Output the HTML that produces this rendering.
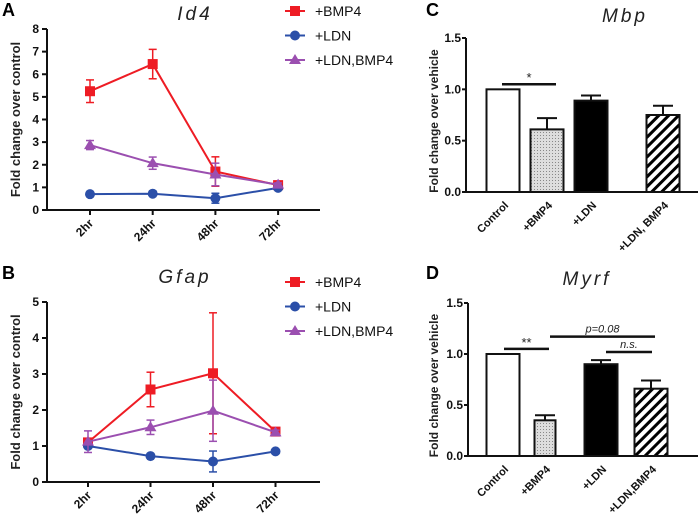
<!DOCTYPE html>
<html><head><meta charset="utf-8"><style>
html,body{margin:0;padding:0;background:#fff;}
svg{display:block;font-family:"Liberation Sans",Arial,sans-serif;}
.tick{font-size:12px;font-weight:bold;fill:#111;}
.ttl{font-size:19px;font-style:italic;letter-spacing:3px;fill:#222;}
.lbl{font-size:13px;font-weight:bold;fill:#222;}
.leg{font-size:14px;fill:#111;}
.pl{font-size:18px;font-weight:bold;fill:#000;}
</style></head><body>
<svg id="fig" width="700" height="520" viewBox="0 0 700 520" xmlns="http://www.w3.org/2000/svg">
<defs>
<pattern id="dots" width="3" height="3" patternUnits="userSpaceOnUse"><rect width="3" height="3" fill="#ddd"/><rect width="1" height="1" fill="#888"/></pattern>
<pattern id="hatch" width="7" height="7" patternUnits="userSpaceOnUse" patternTransform="rotate(45)"><rect width="7" height="7" fill="#fff"/><rect width="3" height="7" fill="#000"/></pattern>
</defs>
</svg>
<script>
// ---- data ----
const timeCats = ["2hr","24hr","48hr","72hr"];
const seriesNames = ["+BMP4","+LDN","+LDN,BMP4"];
const id4Bmp4 = [5.25,6.45,1.7,1.1];
const id4Bmp4Err = [0.5,0.65,0.65,0.08];
const id4Ldn = [0.7,0.72,0.52,0.98];
const id4LdnErr = [0.05,0.05,0.22,0.05];
const id4LdnBmp4 = [2.87,2.07,1.57,1.12];
const id4LdnBmp4Err = [0.2,0.27,0.5,0.08];
const id4Ticks = [0,1,2,3,4,5,6,7,8];
const gfapBmp4 = [1.1,2.57,3.02,1.4];
const gfapBmp4Err = [0.05,0.48,1.68,0.06];
const gfapLdn = [1.0,0.72,0.57,0.85];
const gfapLdnErr = [0.06,0.04,0.29,0.04];
const gfapLdnBmp4 = [1.12,1.52,1.98,1.38];
const gfapLdnBmp4Err = [0.3,0.2,0.85,0.06];
const gfapTicks = [0,1,2,3,4,5];
const mbpCats = ["Control","+BMP4","+LDN","+LDN, BMP4"];
const mbpVals = [1.0,0.61,0.89,0.75];
const mbpErr = [0,0.11,0.05,0.09];
const myrfCats = ["Control","+BMP4","+LDN","+LDN,BMP4"];
const myrfVals = [1.0,0.35,0.9,0.66];
const myrfErr = [0,0.05,0.04,0.08];
const barTicks = [0.0,0.5,1.0,1.5];

const svg = document.getElementById('fig');
const NS = "http://www.w3.org/2000/svg";
function mk(tag, attrs, parent, text){
  const e = document.createElementNS(NS, tag);
  for (const k in attrs) e.setAttribute(k, attrs[k]);
  if (text !== undefined) e.textContent = text;
  (parent||svg).appendChild(e);
  return e;
}
const colors = ["#ee1c24","#2b4fa8","#9b4fb0"];
const markers = ["square","circle","triangle"];
function marker(g, type, x, y, c){
  let m;
  if (type==="square") m = mk('rect',{x:x-5,y:y-5,width:10,height:10,fill:c},g);
  else if (type==="circle") m = mk('circle',{cx:x,cy:y,r:5,fill:c},g);
  else m = mk('polygon',{points:`${x},${y-6} ${x+6},${y+4} ${x-6},${y+4}`,fill:c},g);
  
  
}

function lineChart(opt){
  const g = mk('g',{});
  
  
  const y = v => opt.y0 - (v - 0) * (opt.y0 - opt.yTop) / opt.yMax;
  const x = i => opt.x0 + i * opt.step;
  const ya = mk('line',{x1:opt.axX,y1:opt.yTop,x2:opt.axX,y2:opt.y0,stroke:'#111','stroke-width':2},g);
   
  const xa = mk('line',{x1:opt.axX,y1:opt.y0,x2:opt.axEnd,y2:opt.y0,stroke:'#111','stroke-width':2},g);
   
  opt.ticks.forEach(t=>{
    mk('line',{x1:opt.axX-5,y1:y(t),x2:opt.axX,y2:y(t),stroke:'#111','stroke-width':2},g);
    const tl = mk('text',{x:opt.axX-8,y:y(t)+4,'text-anchor':'end',class:'tick'},g,String(t));
     
  });
  timeCats.forEach((c,i)=>{
    mk('line',{x1:x(i),y1:opt.y0,x2:x(i),y2:opt.y0+5,stroke:'#111','stroke-width':2},g);
    const tl = mk('text',{x:x(i)+4,y:opt.y0+14,'text-anchor':'end',class:'tick',transform:`rotate(-45 ${x(i)+4} ${opt.y0+14})`},g,c);
     
  });
  opt.series.forEach((s,si)=>{
    const sg = mk('g',{},g);
    
    
    const c = colors[si];
    mk('polyline',{points:s.v.map((v,i)=>`${x(i)},${y(v)}`).join(' '),fill:'none',stroke:c,'stroke-width':2},sg);
    s.v.forEach((v,i)=>{
      const e = s.e[i];
      mk('line',{x1:x(i),y1:y(v-e),x2:x(i),y2:y(v+e),stroke:c,'stroke-width':1.5},sg);
      mk('line',{x1:x(i)-4,y1:y(v-e),x2:x(i)+4,y2:y(v-e),stroke:c,'stroke-width':1.5},sg);
      mk('line',{x1:x(i)-4,y1:y(v+e),x2:x(i)+4,y2:y(v+e),stroke:c,'stroke-width':1.5},sg);
      marker(sg, markers[si], x(i), y(v), c);
    });
  });
  seriesNames.forEach((n,i)=>{
    const ly = opt.legY + i*24.5;
    const lg = mk('g',{},g);
     
    mk('line',{x1:285,y1:ly,x2:305,y2:ly,stroke:colors[i],'stroke-width':2},lg);
    marker(lg, markers[i], 295, ly, colors[i]);
    mk('text',{x:315,y:ly+5,class:'leg'},lg,n);
  });
  const t = mk('text',{x:opt.titleX,y:opt.titleY,'text-anchor':'middle',class:'ttl'},g,opt.title);
   
  const yl = mk('text',{x:0,y:0,'text-anchor':'middle',class:'lbl',transform:`translate(20 ${(opt.y0+opt.yTop)/2}) rotate(-90)`},g,'Fold change over control');
   
  const pl = mk('text',{x:2,y:opt.letterY,class:'pl'},g,opt.letter);
   
}

lineChart({name:'id4-chart',title:'Id4',titleX:195,titleY:20,letter:'A',letterY:16,
  y0:210,yTop:29,yMax:8,axX:47,axEnd:320,x0:90,step:62.7,ticks:id4Ticks,legY:11,
  series:[{v:id4Bmp4,e:id4Bmp4Err},{v:id4Ldn,e:id4LdnErr},{v:id4LdnBmp4,e:id4LdnBmp4Err}]});
lineChart({name:'gfap-chart',title:'Gfap',titleX:185,titleY:283,letter:'B',letterY:279,
  y0:482,yTop:302,yMax:5,axX:47,axEnd:320,x0:88,step:62.5,ticks:gfapTicks,legY:282,
  series:[{v:gfapBmp4,e:gfapBmp4Err},{v:gfapLdn,e:gfapLdnErr},{v:gfapLdnBmp4,e:gfapLdnBmp4Err}]});

const fills = ['#fff','url(#dots)','#000','url(#hatch)'];
function barChart(opt){
  const g = mk('g',{});
  
  
  const y = v => opt.y0 - v * (opt.y0 - opt.yTop) / 1.5;
  const x = i => opt.xc(i);
  const ya = mk('line',{x1:opt.axX,y1:opt.yTop,x2:opt.axX,y2:opt.y0,stroke:'#111','stroke-width':2},g);
   
  const xa = mk('line',{x1:opt.axX,y1:opt.y0,x2:698,y2:opt.y0,stroke:'#111','stroke-width':2},g);
   
  barTicks.forEach(t=>{
    mk('line',{x1:opt.axX-4,y1:y(t),x2:opt.axX,y2:y(t),stroke:'#111','stroke-width':2},g);
    const tl = mk('text',{x:opt.axX-5,y:y(t)+4,'text-anchor':'end',class:'tick'},g,t.toFixed(1));
     
  });
  opt.vals.forEach((v,i)=>{
    const w = opt.w(i);
    const e = opt.err[i];
    if (e>0){
      mk('line',{x1:x(i),y1:y(v),x2:x(i),y2:y(v+e),stroke:'#111','stroke-width':2},g);
      mk('line',{x1:x(i)-10,y1:y(v+e),x2:x(i)+10,y2:y(v+e),stroke:'#111','stroke-width':2},g);
    }
    const b = mk('rect',{x:x(i)-w/2,y:y(v),width:w,height:opt.y0-y(v),fill:fills[i],stroke:'#111','stroke-width':2},g);
    
    
    const tl = mk('text',{x:x(i)+6,y:opt.y0+14,'text-anchor':'end',class:'tick',style:'font-size:11px',transform:`rotate(-45 ${x(i)+6} ${opt.y0+14})`},g,opt.cats[i]);
     
  });
  opt.sigs.forEach(s=>{
    const sg = mk('g',{},g);
     
    mk('line',{x1:s.x1,y1:y(s.v),x2:s.x2,y2:y(s.v),stroke:'#111','stroke-width':2.5},sg);
    mk('text',{x:(s.x1+s.x2)/2,y:y(s.v)-(s.italic?4:2),'text-anchor':'middle',style:`font-size:${s.italic?11:13}px;${s.italic?'font-style:italic;':''}fill:#222`},sg,s.t);
  });
  const t = mk('text',{x:opt.titleX,y:opt.titleY,'text-anchor':'middle',class:'ttl'},g,opt.title);
   
  const yl = mk('text',{x:0,y:0,'text-anchor':'middle',class:'lbl',style:'font-size:12px',transform:`translate(438 ${(opt.y0+opt.yTop)/2+6}) rotate(-90)`},g,'Fold change over vehicle');
   
  const pl = mk('text',{x:426,y:opt.letterY,class:'pl'},g,opt.letter);
   
}
barChart({name:'mbp-chart',title:'Mbp',titleX:625,titleY:22,letter:'C',letterY:16,y0:192,yTop:38,axX:466,
  cats:mbpCats,vals:mbpVals,err:mbpErr,w:i=>33,xc:i=>503+i*44+(i===3?28:0),
  sigs:[{x1:502,x2:556,v:1.05,t:'*'}]});
barChart({name:'myrf-chart',title:'Myrf',titleX:587,titleY:285,letter:'D',letterY:279,y0:456,yTop:303,axX:468,
  cats:myrfCats,vals:myrfVals,err:myrfErr,w:i=>(i===1?21:33),xc:i=>[0,1,2,3].map(k=>503+k*50+(k===1?-8:0)+(k>=2?-2:0))[i],
  sigs:[{x1:504,x2:549,v:1.05,t:'**'},{x1:550,x2:655,v:1.17,t:'p=0.08',italic:true},{x1:606,x2:652,v:1.02,t:'n.s.',italic:true}]});
</script>
</body></html>
